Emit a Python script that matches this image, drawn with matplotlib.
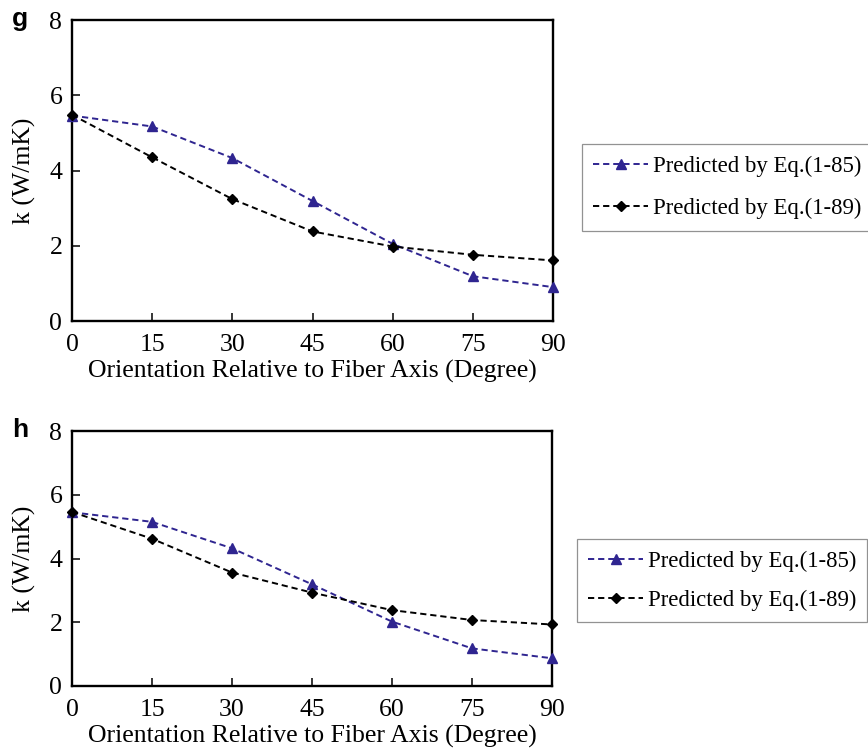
import matplotlib
matplotlib.use("Agg")
import matplotlib.pyplot as plt

plt.rcParams['font.family'] = ['Liberation Serif', 'DejaVu Serif']

angle = [0, 15, 30, 45, 60, 75, 90]
angle_ticks = [0, 15, 30, 45, 60, 75, 90]
k_ticks = [0, 2, 4, 6, 8]

# panel g
g_eq85 = [5.46, 5.17, 4.33, 3.19, 2.05, 1.19, 0.90]
g_eq89 = [5.48, 4.35, 3.24, 2.38, 1.98, 1.76, 1.61]
# panel h
h_eq85 = [5.45, 5.15, 4.32, 3.19, 2.02, 1.18, 0.87]
h_eq89 = [5.46, 4.62, 3.56, 2.93, 2.38, 2.07, 1.93]

labels = ["Predicted by Eq.(1-85)", "Predicted by Eq.(1-89)"]
blue = '#2f2590'

W, H = 868, 753
fig = plt.figure(figsize=(W / 100, H / 100), dpi=100)


def panel(rect, letter, eq85, eq89, leg_xy, spacing):
    l, t, r, b = rect
    ax = fig.add_axes([l / W, 1 - b / H, (r - l) / W, (b - t) / H])
    l1, = ax.plot(angle, eq85, ls=(0, (3.2, 2.0)), color=blue, lw=1.4,
                  marker='^', ms=7, clip_on=False, zorder=3)
    l2, = ax.plot(angle, eq89, ls=(0, (3.2, 2.0)), color='black', lw=1.4,
                  marker='D', ms=5.5, clip_on=False, zorder=3)
    ax.set_xlim(0, 90)
    ax.set_ylim(0, 8)
    ax.set_xticks(angle_ticks)
    ax.set_yticks(k_ticks)
    ax.tick_params(axis='x', direction='in', length=6, width=1.1,
                   labelsize=18.5, pad=9.5)
    ax.tick_params(axis='y', direction='in', length=6, width=1.1,
                   labelsize=18.5, pad=7)
    for s in ax.spines.values():
        s.set_linewidth(1.7)
    ax.set_xlabel("Orientation Relative to Fiber Axis (Degree)",
                  fontsize=18.5, labelpad=3)
    ax.set_ylabel("k (W/mK)", fontsize=18.5, labelpad=10)
    fig.text(12 / W, 1 - (t + 6) / H, letter, family='Liberation Sans',
             fontweight='bold', fontsize=19, va='baseline', ha='left')
    leg = fig.legend([l1, l2], labels, loc='upper left',
                     bbox_to_anchor=(leg_xy[0] / W, 1 - leg_xy[1] / H),
                     fontsize=16.4, frameon=True, fancybox=False,
                     edgecolor='#777777', handlelength=2.4,
                     handletextpad=0.2, borderpad=0.5, labelspacing=spacing,
                     borderaxespad=0)
    leg.get_frame().set_linewidth(0.9)
    return ax


panel((72, 20, 553, 321), 'g', g_eq85, g_eq89, (582, 144), 0.95)
panel((72, 431, 552, 686), 'h', h_eq85, h_eq89, (577, 539), 0.8)

fig.savefig("out.png", dpi=100)
